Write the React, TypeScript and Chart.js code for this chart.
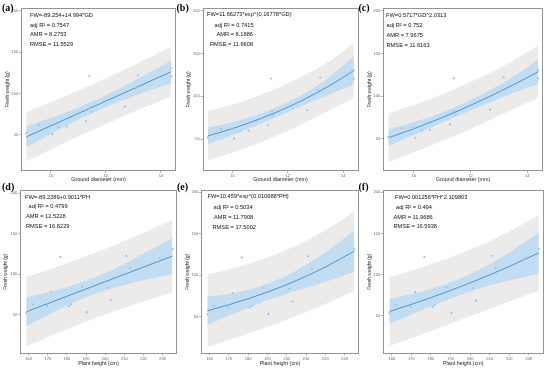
import React, { useEffect, useRef } from "react";
import { Chart, registerables } from "chart.js";
Chart.register(...registerables);

// ---------- data ----------
const yTickValues = [50, 100, 150, 200];
const gdTickValues = [10, 12, 14];
const phTickValues = [160, 170, 180, 190, 200, 210, 220, 230];

// observed samples (panels a–c)
const groundDiameter = [9.11, 9.58, 9.98, 10.06, 10.28, 10.58, 11.28, 11.4, 11.42, 11.48, 12.69, 13.1, 13.17, 14.38, 14.38];
const freshWeightByGD = [51.8, 61.8, 62.0, 50.6, 59.0, 59.9, 66.6, 120.8, 82.5, 77.9, 84.0, 107.0, 122.0, 130.5, 120.8];
// observed samples (panels d–f)
const plantHeight = [158.8, 162.3, 169.6, 171.9, 176.6, 180.9, 182.1, 187.9, 190.5, 201.3, 203.0, 211.0, 213.1, 228.4, 235.1];
const freshWeightByPH = [52.8, 63.1, 61.0, 78.6, 121.6, 61.0, 63.1, 84.8, 53.3, 83.5, 68.4, 122.9, 108.1, 120.4, 131.1];

// curve sample positions
const gdCurveX = [9.11, 10.0, 11.0, 11.8, 12.5, 13.5, 14.38];
const phCurveX = [158.8, 170, 180, 190, 200, 210, 220, 235.1];

// (a) linear
const aFit = [47.3, 60.7, 75.7, 87.7, 98.2, 113.2, 126.4];
const aCiLow = [34.7, 51.0, 68.3, 80.7, 90.3, 102.6, 112.7];
const aCiHigh = [59.9, 70.4, 83.1, 94.7, 106.1, 123.8, 140.1];
const aPiLow = [17.7, 32.2, 47.9, 60.0, 70.3, 84.4, 96.3];
const aPiHigh = [76.9, 89.2, 103.5, 115.4, 126.1, 142.0, 156.5];
// (b) exponential
const bFit = [53.8, 62.4, 73.8, 84.5, 95.0, 112.3, 130.2];
const bCiLow = [43.8, 54.9, 68.0, 78.8, 88.5, 102.3, 113.7];
const bCiHigh = [63.8, 69.9, 79.6, 90.2, 101.5, 122.3, 146.7];
const bPiLow = [25.0, 34.4, 46.2, 56.9, 67.2, 83.5, 98.5];
const bPiHigh = [82.6, 90.4, 101.4, 112.1, 122.8, 141.1, 161.9];
// (c) power
const cFit = [50.9, 61.5, 74.6, 86.0, 96.7, 113.0, 128.5];
const cCiLow = [40.9, 54.0, 68.6, 80.0, 89.9, 103.5, 114.0];
const cCiHigh = [60.9, 69.0, 80.6, 92.0, 103.5, 122.5, 143.0];
const cPiLow = [22.1, 33.5, 47.0, 58.4, 68.9, 84.4, 97.9];
const cPiHigh = [79.7, 89.5, 102.2, 113.6, 124.5, 141.6, 159.1];
// (d) linear
const dFit = [53.9, 64.0, 73.0, 82.0, 91.0, 100.0, 109.0, 122.6];
const dCiLow = [36.1, 50.1, 61.7, 71.9, 80.2, 87.0, 92.7, 100.6];
const dCiHigh = [71.7, 77.9, 84.3, 92.1, 101.8, 113.0, 125.3, 144.6];
const dPiLow = [11.0, 22.6, 32.4, 41.7, 50.5, 58.9, 66.7, 77.9];
const dPiHigh = [96.8, 105.4, 113.6, 122.3, 131.5, 141.1, 151.3, 167.3];
// (e) exponential
const eFit = [57.1, 64.4, 71.6, 79.7, 88.7, 98.7, 109.8, 129.1];
const eCiLow = [40.1, 51.4, 60.6, 69.7, 77.7, 84.7, 91.8, 104.1];
const eCiHigh = [74.1, 77.4, 82.6, 89.7, 99.7, 112.7, 127.8, 154.1];
const ePiLow = [13.1, 21.8, 29.6, 37.9, 46.7, 55.7, 65.3, 81.4];
const ePiHigh = [101.1, 107.0, 113.6, 121.5, 130.7, 141.7, 154.3, 176.8];
// (f) power
const fFit = [55.2, 63.8, 72.0, 80.7, 89.9, 99.6, 109.9, 126.4];
const fCiLow = [40.2, 51.3, 61.5, 70.7, 79.4, 86.6, 92.9, 101.4];
const fCiHigh = [70.2, 76.3, 82.5, 90.7, 100.4, 112.6, 126.9, 151.4];
const fPiLow = [13.2, 22.8, 31.5, 40.4, 49.4, 58.6, 67.4, 80.4];
const fPiHigh = [97.2, 104.8, 112.5, 121.0, 130.4, 140.6, 152.4, 172.4];

const aNotes = ["FW=-89.254+14.994*GD", "adj R\u00B2 = 0.7547", "AMR = 8.2753", "RMSE = 11.5529"];
const bNotes = ["FW=11.66273*exp^(0.16778*GD)", "adj R\u00B2 = 0.7415", "AMR = 8.1886", "RMSE = 11.6608"];
const cNotes = ["FW=0.5717*GD^2.0313", "adj R\u00B2 = 0.752", "AMR = 7.9675", "RMSE = 11.6163"];
const dNotes = ["FW=-89.2289+0.9011*PH", "adj R\u00B2 = 0.4799", "AMR = 12.5228", "RMSE = 16.8229"];
const eNotes = ["FW=10.459*exp^(0.010688*PH)", "adj R\u00B2 = 0.5034", "AMR = 11.7908", "RMSE = 17.5002"];
const fNotes = ["FW=0.001256*PH^2.109803", "adj R\u00B2 = 0.494", "AMR = 11.9686", "RMSE = 16.5938"];

// ---------- layout / style ----------
const W = 550;
const H = 371;
const SANS = '"Liberation Sans", Arial, sans-serif';
const COL_GRAY = "rgb(237,235,233)";
const COL_BLUE = "rgb(194,220,241)";
const COL_LINE = "rgb(76,150,206)";
const COL_POINT = "rgb(150,196,236)";
const COL_BORDER = "#939393";

type Panel = {
  label: string; labelX: number; labelY: number;
  xs: number[]; ys: number[];
  cx: number[]; fit: number[]; ciLo: number[]; ciHi: number[]; piLo: number[]; piHi: number[];
  xTicks: number[]; xTitle: string; xMin: number; xMax: number; yMin: number; yMax: number;
  l: number; t: number; r: number; b: number; yTitleX: number; xTitleY: number;
  notes: string[]; noteX: number[]; noteY: number[];
};

const panels: Panel[] = [
  { label: "(a)", labelX: 2, labelY: 3, xs: groundDiameter, ys: freshWeightByGD, cx: gdCurveX, fit: aFit, ciLo: aCiLow, ciHi: aCiHigh, piLo: aPiLow, piHi: aPiHigh,
    xTicks: gdTickValues, xTitle: "Ground diameter (mm)", xMin: 8.92, xMax: 14.55, yMin: 6, yMax: 203.6,
    l: 21, t: 8, r: 176, b: 171, yTitleX: 7.5, xTitleY: 180, notes: aNotes, noteX: [30, 30, 30, 30], noteY: [15, 25, 34.5, 44] },
  { label: "(b)", labelX: 176.5, labelY: 3, xs: groundDiameter, ys: freshWeightByGD, cx: gdCurveX, fit: bFit, ciLo: bCiLow, ciHi: bCiHigh, piLo: bPiLow, piHi: bPiHigh,
    xTicks: gdTickValues, xTitle: "Ground diameter (mm)", xMin: 8.92, xMax: 14.55, yMin: 12.9, yMax: 203.1,
    l: 202.5, t: 8, r: 358.5, b: 171, yTitleX: 188.5, xTitleY: 180, notes: bNotes, noteX: [207, 214.5, 216.5, 210], noteY: [14, 25, 34.7, 44.5] },
  { label: "(c)", labelX: 358.5, labelY: 3, xs: groundDiameter, ys: freshWeightByGD, cx: gdCurveX, fit: cFit, ciLo: cCiLow, ciHi: cCiHigh, piLo: cPiLow, piHi: cPiHigh,
    xTicks: gdTickValues, xTitle: "Ground diameter (mm)", xMin: 8.92, xMax: 14.55, yMin: 11.8, yMax: 203.5,
    l: 383, t: 8, r: 543, b: 171, yTitleX: 369.5, xTitleY: 180, notes: cNotes, noteX: [386, 386.5, 386.5, 386.5], noteY: [15, 25.3, 35.3, 45] },
  { label: "(d)", labelX: 2, labelY: 182, xs: plantHeight, ys: freshWeightByPH, cx: phCurveX, fit: dFit, ciLo: dCiLow, ciHi: dCiHigh, piLo: dPiLow, piHi: dPiHigh,
    xTicks: phTickValues, xTitle: "Plant height (cm)", xMin: 155.5, xMax: 237.5, yMin: 2.5, yMax: 204,
    l: 20, t: 190, r: 177, b: 353.5, yTitleX: 5.7, xTitleY: 363.5, notes: dNotes, noteX: [25, 28.5, 26, 26], noteY: [197.5, 206.7, 216.7, 226.7] },
  { label: "(e)", labelX: 177, labelY: 182, xs: plantHeight, ys: freshWeightByPH, cx: phCurveX, fit: eFit, ciLo: eCiLow, ciHi: eCiHigh, piLo: ePiLow, piHi: ePiHigh,
    xTicks: phTickValues, xTitle: "Plant height (cm)", xMin: 155.5, xMax: 237.5, yMin: 5.6, yMax: 202.8,
    l: 201, t: 190, r: 359, b: 353.5, yTitleX: 187.5, xTitleY: 363.5, notes: eNotes, noteX: [207.5, 213.5, 214, 212.5], noteY: [196.7, 207.3, 217.3, 227.3] },
  { label: "(f)", labelX: 358.5, labelY: 182, xs: plantHeight, ys: freshWeightByPH, cx: phCurveX, fit: fFit, ciLo: fCiLow, ciHi: fCiHigh, piLo: fPiLow, piHi: fPiHigh,
    xTicks: phTickValues, xTitle: "Plant height (cm)", xMin: 155.5, xMax: 237.5, yMin: 4.1, yMax: 202.8,
    l: 383, t: 190, r: 543.5, b: 353.5, yTitleX: 369.5, xTitleY: 363.5, notes: fNotes, noteX: [395, 396, 393.5, 393.5], noteY: [197.7, 207.3, 217, 226.7] },
];

const toXY = (xs: number[], ys: number[]) => xs.map((x, i) => ({ x, y: ys[i] }));

function buildConfig(p: Panel): any {
  const yTitleSize = 5;
  const xTitleSize = 5.4;
  const yw = p.l - (p.yTitleX - (yTitleSize * 1.2) / 2);
  const xh = p.xTitleY + (xTitleSize * 1.2) / 2 - p.b;
  const band = { type: "line", borderWidth: 0, pointRadius: 0, cubicInterpolationMode: "monotone" };
  const framePlugin = {
    id: "frame",
    afterDatasetsDraw(chart: any) {
      const { ctx, chartArea: a } = chart;
      ctx.save();
      ctx.strokeStyle = COL_BORDER;
      ctx.lineWidth = 1;
      ctx.strokeRect(Math.round(a.left) + 0.5, Math.round(a.top) + 0.5, Math.round(a.right - a.left) - 1, Math.round(a.bottom - a.top) - 1);
      ctx.restore();
    },
    afterDraw(chart: any) {
      const { ctx } = chart;
      ctx.save();
      ctx.fillStyle = "#111";
      ctx.font = `5.7px ${SANS}`;
      ctx.textBaseline = "middle";
      ctx.textAlign = "left";
      p.notes.forEach((s, i) => ctx.fillText(s, p.noteX[i], p.noteY[i]));
      ctx.restore();
    },
  };
  const grid = { drawOnChartArea: false, drawTicks: true, tickLength: 2, color: COL_BORDER, lineWidth: 0.7 };
  return {
    type: "scatter",
    data: {
      datasets: [
        { type: "scatter", data: toXY(p.xs, p.ys), pointRadius: 1.1, pointBackgroundColor: COL_POINT, pointBorderWidth: 0, order: 0 },
        { type: "line", data: toXY(p.cx, p.fit), borderColor: COL_LINE, borderWidth: 1, pointRadius: 0, fill: false, cubicInterpolationMode: "monotone", order: 1 },
        { ...band, data: toXY(p.cx, p.ciHi), fill: "+1", backgroundColor: COL_BLUE, order: 2 },
        { ...band, data: toXY(p.cx, p.ciLo), fill: false, order: 3 },
        { ...band, data: toXY(p.cx, p.piHi), fill: "+1", backgroundColor: COL_GRAY, order: 4 },
        { ...band, data: toXY(p.cx, p.piLo), fill: false, order: 5 },
      ],
    },
    options: {
      responsive: false,
      animation: false,
      devicePixelRatio: 1,
      events: [],
      layout: { padding: { left: p.l - yw, top: p.t, right: W - p.r, bottom: H - p.b - xh } },
      plugins: { legend: { display: false }, tooltip: { enabled: false } },
      scales: {
        x: {
          type: "linear", min: p.xMin, max: p.xMax,
          afterFit: (s: any) => { s.height = xh; },
          afterBuildTicks: (s: any) => { s.ticks = p.xTicks.map((v) => ({ value: v })); },
          grid, border: { display: false },
          ticks: { font: { size: 4, family: SANS }, color: "#666", padding: 0.5, maxRotation: 0, autoSkip: false },
          title: { display: true, text: p.xTitle, font: { size: xTitleSize, family: SANS }, color: "#222", padding: 0 },
        },
        y: {
          type: "linear", min: p.yMin, max: p.yMax,
          afterFit: (s: any) => { s.width = yw; },
          afterBuildTicks: (s: any) => { s.ticks = yTickValues.map((v) => ({ value: v })); },
          grid, border: { display: false },
          ticks: { font: { size: 4, family: SANS }, color: "#666", padding: 0.8, autoSkip: false },
          title: { display: true, text: "Fresh weight (g)", font: { size: yTitleSize, family: SANS }, color: "#222", padding: 0 },
        },
      },
    },
    plugins: [framePlugin],
  };
}

function PanelChart({ p }: { p: Panel }) {
  const ref = useRef<HTMLCanvasElement>(null);
  useEffect(() => {
    if (!ref.current) return;
    const chart = new Chart(ref.current, buildConfig(p));
    return () => chart.destroy();
  }, [p]);
  return <canvas ref={ref} width={W} height={H} style={{ position: "absolute", left: 0, top: 0, width: W, height: H }} />;
}

export default function App() {
  return (
    <div style={{ position: "fixed", left: 0, top: 0, width: W, height: H, background: "#fff", overflow: "hidden" }}>
      {panels.map((p) => (
        <PanelChart key={p.label} p={p} />
      ))}
      {panels.map((p) => (
        <div key={"lbl" + p.label} style={{ position: "absolute", left: p.labelX, top: p.labelY, font: 'bold 10px "Liberation Serif", "Times New Roman", serif', lineHeight: "10px", color: "#000" }}>
          {p.label}
        </div>
      ))}
    </div>
  );
}
